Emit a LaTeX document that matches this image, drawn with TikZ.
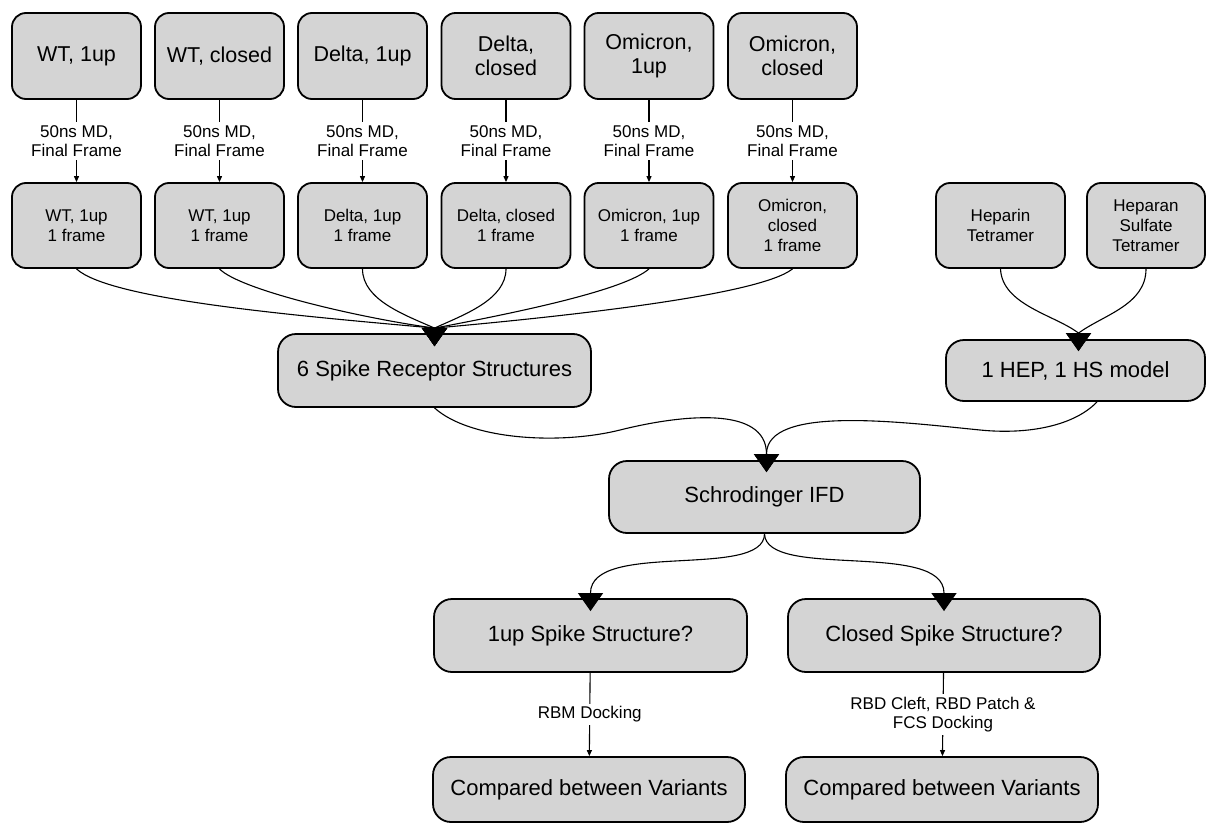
\documentclass[tikz,border=0pt]{standalone}
\usepackage{fontspec}
\setmainfont{Liberation Sans}
\usetikzlibrary{arrows.meta,calc}
\definecolor{boxgray}{RGB}{212,212,212}
\begin{document}
\begin{tikzpicture}[x=1pt,y=-1pt,
  basebox/.style={draw=black, line width=1.8pt, fill=boxgray, align=center, inner sep=0pt},
  topbox/.style={basebox, rounded corners=14pt, minimum width=129pt, minimum height=86pt, font=\fontsize{21.5}{24}\selectfont},
  midbox/.style={basebox, rounded corners=14pt, minimum width=129pt, minimum height=85pt, font=\fontsize{17}{20}\selectfont},
  bigbox/.style={basebox, rounded corners=18pt, minimum width=313pt, minimum height=73pt, font=\fontsize{22}{25}\selectfont},
  conn/.style={draw=black, line width=1.1pt},
  bigarr/.style={conn, -{Triangle[length=18pt,width=25pt]}},
  smallarr/.style={conn, -{Triangle[length=6pt,width=5pt]}},
  lbl/.style={fill=white, inner sep=3pt, align=center, font=\fontsize{17}{19}\selectfont}]
\useasboundingbox (0,0) rectangle (1206,824);

% top row
\node[topbox] (t1) at (76.5,56) {WT, 1up};
\node[topbox] (t2) at (219.5,56) {WT, closed};
\node[topbox] (t3) at (362.5,56) {Delta, 1up};
\node[topbox] (t4) at (506,56) {Delta,\\closed};
\node[topbox] (t5) at (649,56) {Omicron,\\1up};
\node[topbox] (t6) at (792.5,56) {Omicron,\\closed};

% second row
\node[midbox] (r1) at (76.5,225.5) {WT, 1up\\1 frame};
\node[midbox] (r2) at (219.5,225.5) {WT, 1up\\1 frame};
\node[midbox] (r3) at (362.5,225.5) {Delta, 1up\\1 frame};
\node[midbox] (r4) at (506,225.5) {Delta, closed\\1 frame};
\node[midbox] (r5) at (649,225.5) {Omicron, 1up\\1 frame};
\node[midbox] (r6) at (792.5,225.5) {Omicron,\\closed\\1 frame};

\node[midbox] (hp1) at (1000.5,225.5) {Heparin\\Tetramer};
\node[midbox, minimum width=118pt] (hp2) at (1146,225.5) {Heparan\\Sulfate\\Tetramer};

% big boxes
\node[bigbox] (spike) at (434.5,370.5) {6 Spike Receptor Structures};
\node[bigbox, minimum width=259pt, minimum height=61pt] (hep) at (1075.5,370.5) {1 HEP, 1 HS model};
\node[bigbox, minimum width=311pt, minimum height=72pt] (sch) at (764.5,497) {Schrodinger IFD};
\node[bigbox] (up) at (590.5,635.5) {1up Spike Structure?};
\node[bigbox, minimum width=312pt] (cl) at (944,635.5) {Closed Spike Structure?};
\node[bigbox, minimum width=312pt, minimum height=65pt] (c1) at (589,789.5) {Compared between Variants};
\node[bigbox, minimum width=312pt, minimum height=65pt] (c2) at (942,789.5) {Compared between Variants};

% helper coordinates
\coordinate (spikeIn) at ($(spike.north)+(0,-5)$);
\coordinate (spikeTip) at ($(spike.north)+(0,13)$);
\coordinate (hepIn) at ($(hep.north)+(3,-6)$);
\coordinate (hepTip) at ($(hep.north)+(3,12)$);
\coordinate (hepOut) at ($(hep.south)+(21.5,0)$);
\coordinate (schIn) at ($(sch.north)+(2,-6)$);
\coordinate (schTip) at ($(sch.north)+(2,12)$);
\coordinate (upIn) at ($(up.north)+(0,-5)$);
\coordinate (upTip) at ($(up.north)+(0,13)$);
\coordinate (clIn) at ($(cl.north)+(0,-5)$);
\coordinate (clTip) at ($(cl.north)+(0,13)$);

% MD connectors
\foreach \i in {1,...,6}{
  \draw[smallarr] (t\i) -- node[lbl]{50ns MD,\\Final Frame} (r\i);
}

% curves into spike box
\draw[bigarr] (r1.south) .. controls (110,300) and (300,316) .. (spikeIn) -- (spikeTip);
\draw[bigarr] (r2.south) .. controls (240,290) and (360,318) .. (spikeIn) -- (spikeTip);
\draw[bigarr] (r3.south) .. controls (362.5,300) and (405,315) .. (spikeIn) -- (spikeTip);
\draw[bigarr] (r4.south) .. controls (506,300) and (463,315) .. (spikeIn) -- (spikeTip);
\draw[bigarr] (r5.south) .. controls (625,290) and (520,312) .. (spikeIn) -- (spikeTip);
\draw[bigarr] (r6.south) .. controls (760,295) and (570,316) .. (spikeIn) -- (spikeTip);

% curves into HEP box
\draw[bigarr] (hp1.south) .. controls (1002,305) and (1055,315) .. (hepIn) -- (hepTip);
\draw[bigarr] (hp2.south) .. controls (1146,305) and (1103,315) .. (hepIn) -- (hepTip);

% into Schrodinger
\draw[bigarr] (spike.south) .. controls (470,440) and (560,445) .. (620,430)
   .. controls (680,415) and (766.5,405) .. (schIn) -- (schTip);
\draw[bigarr] (hepOut) .. controls (1075,425) and (1030,435) .. (980,430)
   .. controls (900,422) and (766.5,405) .. (schIn) -- (schTip);

% out of Schrodinger
\draw[bigarr] (sch.south) .. controls (764,580) and (590.5,540) .. (upIn) -- (upTip);
\draw[bigarr] (sch.south) .. controls (766,580) and (944,540) .. (clIn) -- (clTip);

% docking
\draw[smallarr] (up) -- node[lbl]{RBM Docking} (c1);
\draw[smallarr] (cl) -- node[lbl]{RBD Cleft, RBD Patch \&\\FCS Docking} (c2);
\end{tikzpicture}
\end{document}
